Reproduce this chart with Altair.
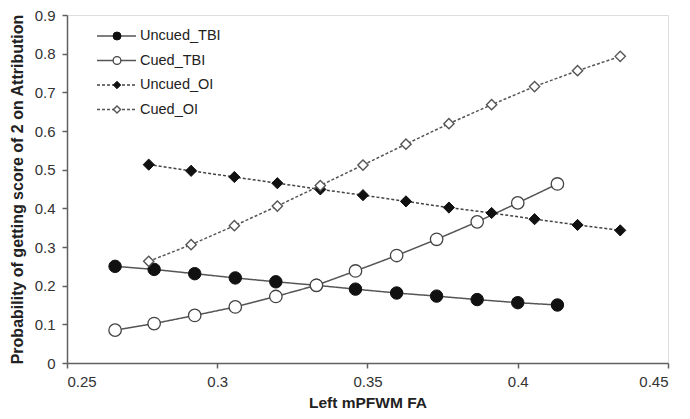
import altair as alt
import pandas as pd

# ---- data ----
series_names = ["Uncued_TBI", "Cued_TBI", "Uncued_OI", "Cued_OI"]

x_tbi = [0.266, 0.279, 0.2925, 0.306, 0.3195, 0.333, 0.346, 0.3597, 0.373, 0.3865, 0.400, 0.4132]
y_uncued_tbi = [0.250, 0.242, 0.231, 0.220, 0.210, 0.201, 0.191, 0.181, 0.173, 0.164, 0.156, 0.150]
y_cued_tbi = [0.085, 0.102, 0.123, 0.145, 0.172, 0.201, 0.238, 0.278, 0.320, 0.365, 0.414, 0.463]

x_oi = [0.2772, 0.2913, 0.3057, 0.3200, 0.3343, 0.3485, 0.3628, 0.3771, 0.3913, 0.4056, 0.4199, 0.4341]
y_uncued_oi = [0.513, 0.497, 0.481, 0.465, 0.449, 0.434, 0.418, 0.402, 0.388, 0.372, 0.357, 0.343]
y_cued_oi = [0.263, 0.306, 0.355, 0.406, 0.459, 0.512, 0.566, 0.619, 0.668, 0.715, 0.756, 0.793]

x_ticks = [0.25, 0.3, 0.35, 0.4, 0.45]
y_ticks = [0, 0.1, 0.2, 0.3, 0.4, 0.5, 0.6, 0.7, 0.8, 0.9]

series_x = [x_tbi, x_tbi, x_oi, x_oi]
series_y = [y_uncued_tbi, y_cued_tbi, y_uncued_oi, y_cued_oi]

# ---- styles ----
FONT = "Liberation Sans"
styles = {
    "Uncued_TBI": dict(line="#555555", dash=[1, 0], shape="circle", fill="#111111", stroke="#111111", sw=1.0, size=155, lsize=64),
    "Cued_TBI": dict(line="#555555", dash=[1, 0], shape="circle", fill="white", stroke="#444444", sw=1.3, size=155, lsize=60),
    "Uncued_OI": dict(line="#444444", dash=[3, 2], shape="diamond", fill="#111111", stroke="#111111", sw=1.0, size=125, lsize=55),
    "Cued_OI": dict(line="#555555", dash=[3, 2], shape="diamond", fill="white", stroke="#555555", sw=1.4, size=105, lsize=50),
}

x_enc = alt.X(
    "x:Q",
    scale=alt.Scale(domain=[0.25, 0.45], nice=False, zero=False),
    axis=alt.Axis(
        values=x_ticks, format=".2~f", title="Left mPFWM FA", grid=False,
        titleFont=FONT, titleFontSize=15.5, titleFontWeight="bold", titleColor="#222222",
        titleY=39, titleBaseline="middle",
        labelFont=FONT, labelFontSize=15, labelColor="#333333", labelPadding=6,
        domainColor="#606060", domainWidth=1.5, tickColor="#606060", tickWidth=1.5, tickSize=5,
    ),
)
y_enc = alt.Y(
    "y:Q",
    scale=alt.Scale(domain=[0, 0.9], nice=False, zero=True),
    axis=alt.Axis(
        values=y_ticks, format=".1~f", title="Probability of getting score of 2 on Attribution", grid=False,
        titleFont=FONT, titleFontSize=16, titleFontWeight="bold", titleColor="#222222",
        titleX=-50, titleBaseline="middle", titleAngle=-90,
        labelFont=FONT, labelFontSize=15, labelColor="#333333", labelPadding=7,
        domainColor="#606060", domainWidth=1.5, tickColor="#606060", tickWidth=1.5, tickSize=5,
    ),
)

layers = []
for name, xs, ys in zip(series_names, series_x, series_y):
    st = styles[name]
    df = pd.DataFrame({"x": xs, "y": ys, "series": name})
    base = alt.Chart(df)
    layers.append(base.mark_line(color=st["line"], strokeWidth=1.5, strokeDash=st["dash"]).encode(x=x_enc, y=y_enc))
    layers.append(
        base.mark_point(shape=st["shape"], filled=True, fill=st["fill"], stroke=st["stroke"],
                        strokeWidth=st["sw"], size=st["size"], opacity=1).encode(x=x_enc, y=y_enc)
    )

# ---- manual legend (top-left, inside plot) ----
for i, name in enumerate(series_names):
    st = styles[name]
    yy = 21 + 24.5 * i
    ldf = pd.DataFrame({"label": [name]})
    lb = alt.Chart(ldf)
    layers.append(lb.mark_rule(color=st["line"], strokeWidth=1.5, strokeDash=st["dash"]).encode(
        x=alt.value(30), x2=alt.value(69), y=alt.value(yy)))
    layers.append(lb.mark_point(shape=st["shape"], filled=True, fill=st["fill"], stroke=st["stroke"],
                                strokeWidth=st["sw"], size=st["lsize"], opacity=1).encode(
        x=alt.value(50), y=alt.value(yy)))
    layers.append(lb.mark_text(align="left", baseline="middle", font=FONT, fontSize=14.5, color="#222222").encode(
        x=alt.value(73), y=alt.value(yy), text="label:N"))

chart = alt.layer(*layers).properties(
    width=601, height=348,
    autosize=alt.AutoSizeParams(type="none"),
    padding={"left": 59, "top": 7, "right": 14, "bottom": 48},
).configure_view(stroke=None).configure(background="white")

chart.save("out.html", embed_options={"renderer": "svg", "actions": False})
